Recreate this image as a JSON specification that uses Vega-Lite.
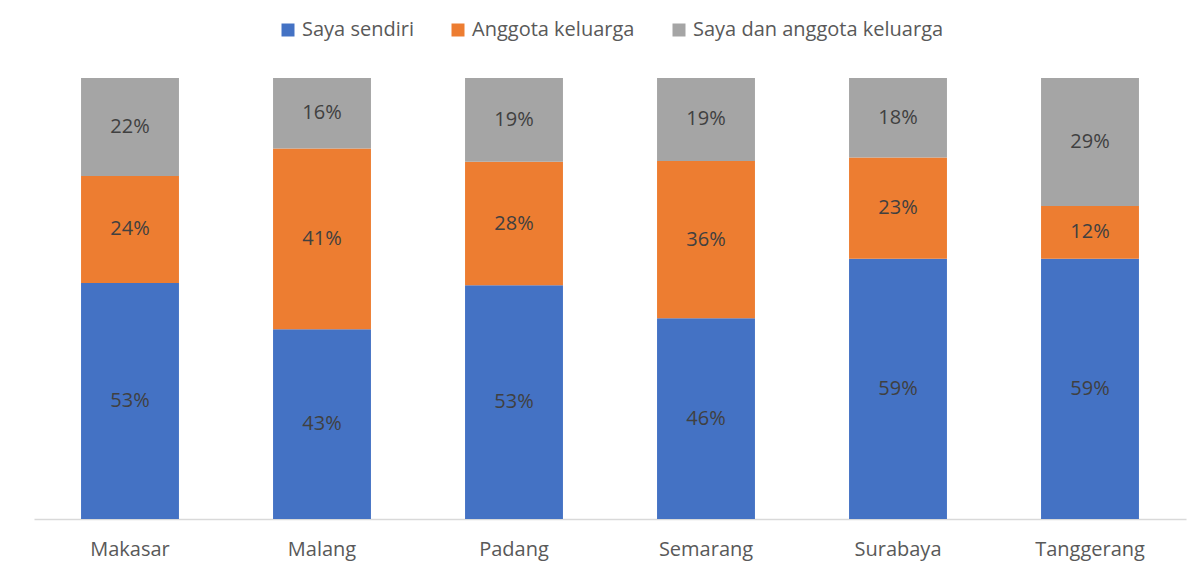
{
  "$schema": "https://vega.github.io/schema/vega-lite/v6.json",
  "width": 1152,
  "height": 441,
  "autosize": "none",
  "padding": {"left": 34, "top": 78, "right": 17, "bottom": 55},
  "background": "white",
  "config": {"view": {"stroke": null}, "font": "Open Sans"},
  "data": {
    "values": [
      {"city": "Makasar", "group": "Saya sendiri", "order": 1, "value": 53},
      {"city": "Makasar", "group": "Anggota keluarga", "order": 2, "value": 24},
      {"city": "Makasar", "group": "Saya dan anggota keluarga", "order": 3, "value": 22},
      {"city": "Malang", "group": "Saya sendiri", "order": 1, "value": 43},
      {"city": "Malang", "group": "Anggota keluarga", "order": 2, "value": 41},
      {"city": "Malang", "group": "Saya dan anggota keluarga", "order": 3, "value": 16},
      {"city": "Padang", "group": "Saya sendiri", "order": 1, "value": 53},
      {"city": "Padang", "group": "Anggota keluarga", "order": 2, "value": 28},
      {"city": "Padang", "group": "Saya dan anggota keluarga", "order": 3, "value": 19},
      {"city": "Semarang", "group": "Saya sendiri", "order": 1, "value": 46},
      {"city": "Semarang", "group": "Anggota keluarga", "order": 2, "value": 36},
      {"city": "Semarang", "group": "Saya dan anggota keluarga", "order": 3, "value": 19},
      {"city": "Surabaya", "group": "Saya sendiri", "order": 1, "value": 59},
      {"city": "Surabaya", "group": "Anggota keluarga", "order": 2, "value": 23},
      {"city": "Surabaya", "group": "Saya dan anggota keluarga", "order": 3, "value": 18},
      {"city": "Tanggerang", "group": "Saya sendiri", "order": 1, "value": 59},
      {"city": "Tanggerang", "group": "Anggota keluarga", "order": 2, "value": 12},
      {"city": "Tanggerang", "group": "Saya dan anggota keluarga", "order": 3, "value": 29}
    ]
  },
  "transform": [
    {"stack": "value", "groupby": ["city"], "offset": "normalize", "sort": [{"field": "order", "order": "ascending"}], "as": ["v0", "v1"]},
    {"calculate": "(datum.v0 + datum.v1) / 2", "as": "mid"},
    {"calculate": "datum.value + '%'", "as": "label"}
  ],
  "encoding": {
    "x": {
      "field": "city",
      "type": "nominal",
      "sort": null,
      "title": null,
      "scale": {"paddingInner": 0.49, "paddingOuter": 0.245},
      "axis": {
        "labelAngle": 0,
        "labelFontSize": 20,
        "labelColor": "#595959",
        "labelPadding": 20,
        "ticks": false,
        "tickSize": 0,
        "domainColor": "#D9D9D9",
        "domainWidth": 1.5,
        "grid": false
      }
    }
  },
  "layer": [
    {
      "mark": {"type": "bar"},
      "encoding": {
        "y": {"field": "v1", "type": "quantitative", "scale": {"domain": [0, 1]}, "axis": null},
        "y2": {"field": "v0"},
        "color": {
          "field": "group",
          "type": "nominal",
          "scale": {
            "domain": ["Saya sendiri", "Anggota keluarga", "Saya dan anggota keluarga"],
            "range": ["#4472C4", "#ED7D31", "#A5A5A5"]
          },
          "legend": {
            "title": null,
            "orient": "none",
            "legendX": 244,
            "legendY": -58,
            "direction": "horizontal",
            "symbolType": "square",
            "symbolSize": 169,
            "symbolStrokeWidth": 0,
            "labelFontSize": 20,
            "labelColor": "#595959",
            "labelLimit": 400,
            "columnPadding": 34,
            "labelOffset": 4
          }
        }
      }
    },
    {
      "mark": {"type": "text", "fontSize": 20, "color": "#404040"},
      "encoding": {
        "y": {"field": "mid", "type": "quantitative", "scale": {"domain": [0, 1]}},
        "text": {"field": "label"}
      }
    }
  ]
}
